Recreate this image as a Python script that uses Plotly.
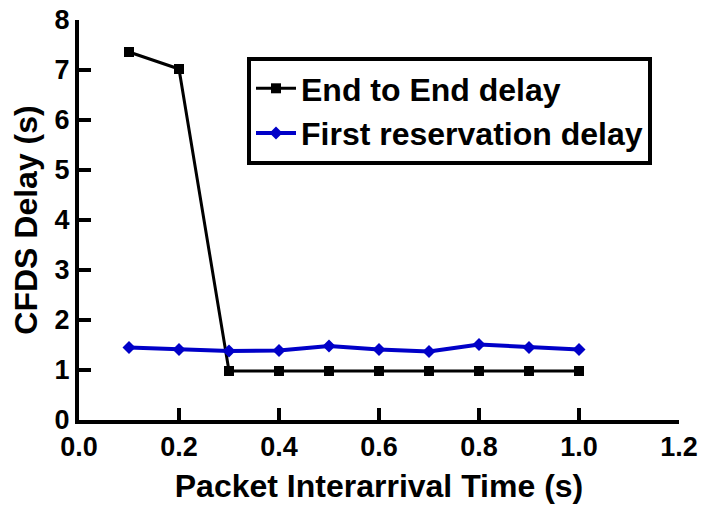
import plotly.graph_objects as go

# packet interarrival time (s)
interarrival = [0.1, 0.2, 0.3, 0.4, 0.5, 0.6, 0.7, 0.8, 0.9, 1.0]
# CFDS delay (s)
end_to_end_delay = [7.36, 7.02, 0.98, 0.98, 0.98, 0.98, 0.98, 0.98, 0.98, 0.98]
first_reservation_delay = [1.45, 1.41, 1.38, 1.39, 1.48, 1.41, 1.37, 1.51, 1.45, 1.41]

x_ticks = [0.0, 0.2, 0.4, 0.6, 0.8, 1.0, 1.2]
y_ticks = [0, 1, 2, 3, 4, 5, 6, 7, 8]

FONT = "Liberation Sans, Arial, sans-serif"

fig = go.Figure()

fig.add_trace(go.Scatter(
    x=interarrival, y=end_to_end_delay,
    mode="lines+markers",
    name="<b>End to End delay</b>",
    line=dict(color="black", width=3),
    marker=dict(symbol="square", size=10, color="black"),
    cliponaxis=False,
))

fig.add_trace(go.Scatter(
    x=interarrival, y=first_reservation_delay,
    mode="lines+markers",
    name="<b>First reservation delay</b>",
    line=dict(color="#0000C8", width=4),
    marker=dict(symbol="diamond", size=10, color="#0000C8"),
    cliponaxis=False,
))

fig.update_xaxes(
    range=[0, 1.2], tickvals=x_ticks,
    ticktext=["<b>{:.1f}</b>".format(v) for v in x_ticks],
    showline=True, linecolor="black", linewidth=4,
    ticks="inside", ticklen=12, tickwidth=4, tickcolor="black",
    showgrid=False, zeroline=False, automargin=False,
    ticklabeloverflow="allow",
    tickfont=dict(family=FONT, size=27, color="black"),
    title=dict(text="<b>Packet Interarrival Time (s)</b>",
               font=dict(family=FONT, size=32, color="black"),
               standoff=14),
)
fig.update_yaxes(
    range=[0, 8], tickvals=y_ticks,
    ticktext=["<b>{}</b>".format(v) for v in y_ticks],
    showline=True, linecolor="black", linewidth=4,
    ticks="inside", ticklen=12, tickwidth=4, tickcolor="black",
    showgrid=False, zeroline=False, automargin=False,
    ticklabeloverflow="allow",
    tickfont=dict(family=FONT, size=27, color="black"),
    title=dict(text="<b>CFDS Delay (s)</b>",
               font=dict(family=FONT, size=32, color="black"),
               standoff=8),
)

# page body has an 8px margin, so the figure is offset by 8px
fig.update_layout(
    template="none",
    width=721, height=512,
    margin=dict(l=71, r=50, t=12, b=100),
    legend=dict(
        x=0.28, y=0.9075, xanchor="left", yanchor="top",
        bgcolor="white", bordercolor="black", borderwidth=4,
        font=dict(family=FONT, size=32, color="black"),
        itemwidth=40,
    ),
)

fig.write_html("out.html")
